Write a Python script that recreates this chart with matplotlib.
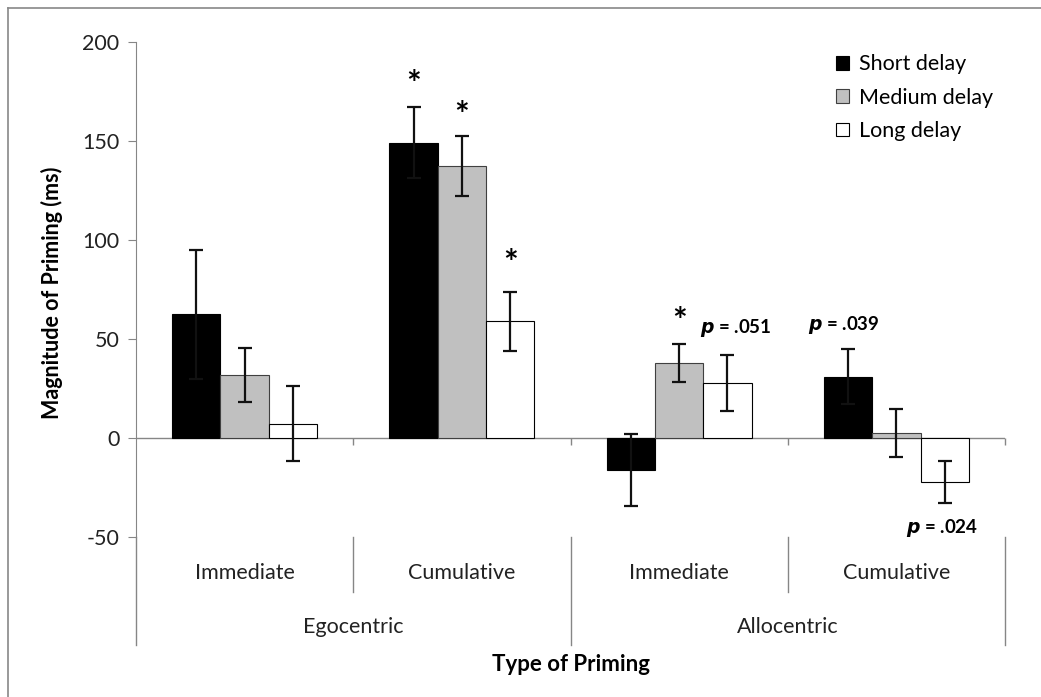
import numpy as np
import matplotlib
matplotlib.use("Agg")
import matplotlib.pyplot as plt
from matplotlib.patches import Rectangle
from matplotlib.lines import Line2D

plt.rcParams["font.family"] = ["Lato", "DejaVu Sans"]
plt.rcParams["axes.unicode_minus"] = False

# priming data (ms), mean and error per delay
conditions = ["Immediate", "Cumulative", "Immediate", "Cumulative"]
frames = ["Egocentric", "Allocentric"]
delays = ["Short delay", "Medium delay", "Long delay"]
short_mean = [62.5, 149.3, -16.0, 31.0]
short_err = [32.4, 18.0, 18.2, 14.0]
medium_mean = [31.8, 137.5, 38.1, 2.7]
medium_err = [13.5, 15.3, 9.5, 12.2]
long_mean = [7.2, 59.1, 27.8, -22.3]
long_err = [19.0, 15.0, 14.0, 10.7]

# significance markers: (category, delay index, y, text)
stars = [(1, 0, 178.5), (1, 1, 163.0), (1, 2, 88.0), (2, 1, 58.7)]
p_notes = [(2, 2, 55.7, ".051", 0.04), (3, 0, 57.0, ".039", -0.02), (3, 2, -45.3, ".024", -0.01)]

colors = ["black", "#c0c0c0", "white"]
edges = ["black", "#404040", "black"]

fig = plt.figure(figsize=(10.41, 6.97), dpi=100)
ax = fig.add_axes([136 / 1041, 1 - 537 / 697, 869 / 1041, 494.5 / 697])

x = np.arange(len(conditions))
w = 1 / 4.5
means = [short_mean, medium_mean, long_mean]
errs = [short_err, medium_err, long_err]
handles = []
for i in range(3):
    ax.bar(x + (i - 1) * w, means[i], w, color=colors[i], edgecolor=edges[i],
           linewidth=0.8, zorder=2)
    ax.errorbar(x + (i - 1) * w, means[i], yerr=errs[i], fmt="none", ecolor="#111111",
                elinewidth=1.6, capsize=5, capthick=1.6, zorder=3)
    handles.append(Rectangle((0, 0), 1, 1, facecolor=colors[i], edgecolor=edges[i], linewidth=0.8))

for c, d, y in stars:
    ax.text(c + (d - 1) * w, y, "*", ha="center", va="center", fontsize=25, fontweight="bold")
for c, d, y, val, dx in p_notes:
    ax.text(c + (d - 1) * w + dx, y, r"$\bfit{p}$" + " = " + val, ha="center", va="center",
            fontsize=13.5, fontweight="bold")

ax.set_xlim(-0.5, 3.5)
ax.set_ylim(-50, 200)
ax.set_yticks(np.arange(-50, 201, 50))
ax.set_xticks([])
for s in ["top", "right", "bottom"]:
    ax.spines[s].set_visible(False)
ax.spines["left"].set_color("#868686")
ax.tick_params(axis="y", direction="out", length=6, color="#868686", labelsize=15.5,
               labelcolor="#222222", pad=6)

# category axis through zero
ax.axhline(0, color="#868686", linewidth=1, zorder=1)
ax.vlines([0.5, 1.5, 2.5, 3.5], -3.5, 0, color="#868686", linewidth=1, clip_on=False)

# multi-level category labels
tr = ax.get_xaxis_transform()
for xs, y1 in [([0.5, 2.5], -0.111), ([-0.5, 1.5, 3.5], -0.218)]:
    for xv in xs:
        ax.plot([xv, xv], [0, y1], transform=tr, color="#868686", linewidth=1, clip_on=False)
for i, name in enumerate(conditions):
    ax.text(i, -0.0728, name, transform=tr, ha="center", va="center", fontsize=15.5, color="#222222")
for i, name in enumerate(frames):
    ax.text(0.5 + 2 * i, -0.182, name, transform=tr, ha="center", va="center", fontsize=15.5,
            color="#222222")
ax.text(1.5, -0.257, "Type of Priming", transform=tr, ha="center", va="center", fontsize=16,
        fontweight="bold")

fig.text(52 / 1041, 1 - 293 / 697, "Magnitude of Priming (ms)", rotation=90, ha="center",
         va="center", fontsize=15.5, fontweight="bold")

ax.legend(handles, delays, loc="upper right", bbox_to_anchor=(1.0, 1.0), frameon=False,
          fontsize=15.5, handlelength=0.6, handleheight=0.6, handletextpad=0.45,
          labelspacing=0.62, borderaxespad=0.15)

# chart border
fig.add_artist(Line2D([8 / 1041, 8 / 1041], [0, 1 - 8 / 697], color="#888888", linewidth=1.2))
fig.add_artist(Line2D([8 / 1041, 1], [1 - 8 / 697, 1 - 8 / 697], color="#888888", linewidth=1.2))

fig.savefig("out.png", dpi=100)
